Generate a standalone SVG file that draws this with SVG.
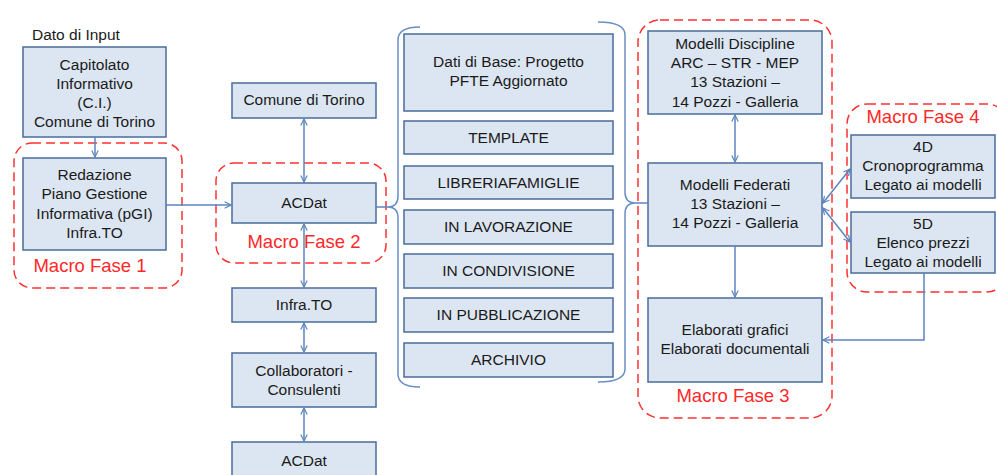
<svg xmlns="http://www.w3.org/2000/svg" width="997" height="475" viewBox="0 0 997 475">
<defs>
<style>
.box{fill:#DCE6F2;stroke:#4A6C9B;stroke-width:1.5}
.t{font-family:"Liberation Sans",Arial,sans-serif;font-size:15.5px;fill:#1a1a1a;text-anchor:middle}
.lbl{font-family:"Liberation Sans",Arial,sans-serif;font-size:15.5px;fill:#1a1a1a}
.mf{font-family:"Liberation Sans",Arial,sans-serif;font-size:18.5px;fill:#FF2828;text-anchor:middle}
.dash{fill:none;stroke:#FF3030;stroke-width:1.5;stroke-dasharray:9 5}
.c{fill:none;stroke:#5B84C0;stroke-width:1.5}
.br{fill:none;stroke:#6A8FC6;stroke-width:1.5}
</style>
<marker id="ah" viewBox="0 0 10 10" refX="9" refY="5" markerWidth="8" markerHeight="8" orient="auto-start-reverse" markerUnits="userSpaceOnUse">
<path d="M1,1 L9,5 L1,9" fill="none" stroke="#5B84C0" stroke-width="1.5"/>
</marker>
</defs>
<rect width="997" height="475" fill="#ffffff"/>

<text class="lbl" x="32" y="40">Dato di Input</text>

<g id="macro1">
<rect class="dash" x="14" y="143" width="168" height="145" rx="18"/>
<text class="mf" x="90" y="272">Macro Fase 1</text>
</g>
<g id="macro2">
<rect class="dash" x="216" y="163" width="170" height="100" rx="18"/>
<text class="mf" x="304" y="248">Macro Fase 2</text>
</g>
<g id="macro3">
<rect class="dash" x="638" y="20" width="194" height="398" rx="22"/>
<text class="mf" x="733" y="402">Macro Fase 3</text>
</g>
<g id="macro4">
<rect class="dash" x="847" y="104" width="160" height="188" rx="20"/>
<text class="mf" x="923" y="123">Macro Fase 4</text>
</g>

<g id="capitolato">
<rect class="box" x="23" y="47" width="143" height="90"/>
<text class="t" x="94.5" y="70">Capitolato</text>
<text class="t" x="94.5" y="89">Informativo</text>
<text class="t" x="94.5" y="108">(C.I.)</text>
<text class="t" x="94.5" y="127">Comune di Torino</text>
</g>
<g id="redazione">
<rect class="box" x="23" y="158" width="143" height="92"/>
<text class="t" x="94.5" y="180">Redazione</text>
<text class="t" x="94.5" y="199">Piano Gestione</text>
<text class="t" x="94.5" y="219">Informativa (pGI)</text>
<text class="t" x="94.5" y="238">Infra.TO</text>
</g>

<g id="comune">
<rect class="box" x="232" y="83" width="144" height="35"/>
<text class="t" x="304" y="105">Comune di Torino</text>
</g>
<g id="acdat1">
<rect class="box" x="232" y="183" width="144" height="40"/>
<text class="t" x="304" y="208">ACDat</text>
</g>
<g id="infrato">
<rect class="box" x="232" y="288" width="144" height="34"/>
<text class="t" x="304" y="310">Infra.TO</text>
</g>
<g id="collaboratori">
<rect class="box" x="232" y="353" width="144" height="54"/>
<text class="t" x="304" y="376">Collaboratori -</text>
<text class="t" x="304" y="395">Consulenti</text>
</g>
<g id="acdat2">
<rect class="box" x="232" y="442" width="144" height="40"/>
<text class="t" x="304" y="466">ACDat</text>
</g>

<g id="datibase">
<rect class="box" x="404" y="34" width="209" height="77"/>
<text class="t" x="508.5" y="67">Dati di Base: Progetto</text>
<text class="t" x="508.5" y="86">PFTE Aggiornato</text>
</g>
<g id="template">
<rect class="box" x="404" y="121" width="209" height="33"/>
<text class="t" x="508.5" y="143">TEMPLATE</text>
</g>
<g id="libreria">
<rect class="box" x="404" y="166" width="209" height="33"/>
<text class="t" x="508.5" y="188">LIBRERIAFAMIGLIE</text>
</g>
<g id="lavorazione">
<rect class="box" x="404" y="210" width="209" height="34"/>
<text class="t" x="508.5" y="232">IN LAVORAZIONE</text>
</g>
<g id="condivisione">
<rect class="box" x="404" y="254" width="209" height="34"/>
<text class="t" x="508.5" y="276">IN CONDIVISIONE</text>
</g>
<g id="pubblicazione">
<rect class="box" x="404" y="298" width="209" height="34"/>
<text class="t" x="508.5" y="320">IN PUBBLICAZIONE</text>
</g>
<g id="archivio">
<rect class="box" x="404" y="343" width="209" height="34"/>
<text class="t" x="508.5" y="365">ARCHIVIO</text>
</g>

<g id="discipline">
<rect class="box" x="648" y="31" width="174" height="83"/>
<text class="t" x="735" y="49">Modelli Discipline</text>
<text class="t" x="735" y="68">ARC – STR - MEP</text>
<text class="t" x="735" y="87">13 Stazioni –</text>
<text class="t" x="735" y="107">14 Pozzi - Galleria</text>
</g>
<g id="federati">
<rect class="box" x="648" y="163" width="174" height="83"/>
<text class="t" x="735" y="190">Modelli Federati</text>
<text class="t" x="735" y="209">13 Stazioni –</text>
<text class="t" x="735" y="228">14 Pozzi - Galleria</text>
</g>
<g id="elaborati">
<rect class="box" x="648" y="298" width="174" height="84"/>
<text class="t" x="735" y="335">Elaborati grafici</text>
<text class="t" x="735" y="354">Elaborati documentali</text>
</g>
<g id="d4">
<rect class="box" x="851" y="135" width="144" height="63"/>
<text class="t" x="923" y="152">4D</text>
<text class="t" x="923" y="171">Cronoprogramma</text>
<text class="t" x="923" y="190">Legato ai modelli</text>
</g>
<g id="d5">
<rect class="box" x="851" y="212" width="144" height="61"/>
<text class="t" x="923" y="229">5D</text>
<text class="t" x="923" y="248">Elenco prezzi</text>
<text class="t" x="923" y="267">Legato ai modelli</text>
</g>

<g id="connectors">
<line class="c" x1="95" y1="137" x2="95" y2="157" marker-end="url(#ah)"/>
<line class="c" x1="166" y1="205" x2="231" y2="205" marker-end="url(#ah)"/>
<line class="c" x1="304" y1="119" x2="304" y2="182" marker-start="url(#ah)" marker-end="url(#ah)"/>
<line class="c" x1="304" y1="224" x2="304" y2="287" marker-start="url(#ah)" marker-end="url(#ah)"/>
<line class="c" x1="304" y1="323" x2="304" y2="352" marker-start="url(#ah)" marker-end="url(#ah)"/>
<line class="c" x1="304" y1="408" x2="304" y2="441" marker-start="url(#ah)" marker-end="url(#ah)"/>
<line class="c" x1="376" y1="207" x2="388" y2="207"/>
<path class="br" d="M420,27 Q398,27 398,40 L398,196 Q398,207 388,207 Q398,207 398,218 L398,374 Q398,387 420,387"/>
<path class="br" d="M598,22 Q625,22 625,35 L625,192 Q625,203 635,203 Q625,203 625,214 L625,369 Q625,382 598,382"/>
<line class="c" x1="635" y1="203" x2="648" y2="203"/>
<line class="c" x1="735" y1="115" x2="735" y2="162" marker-start="url(#ah)" marker-end="url(#ah)"/>
<line class="c" x1="735" y1="246" x2="735" y2="297" marker-end="url(#ah)"/>
<line class="c" x1="850" y1="169" x2="823" y2="203" marker-start="url(#ah)" marker-end="url(#ah)"/>
<line class="c" x1="850" y1="242" x2="823" y2="208" marker-start="url(#ah)" marker-end="url(#ah)"/>
<path class="c" d="M924,273 V340 H823" marker-end="url(#ah)"/>
</g>
</svg>
